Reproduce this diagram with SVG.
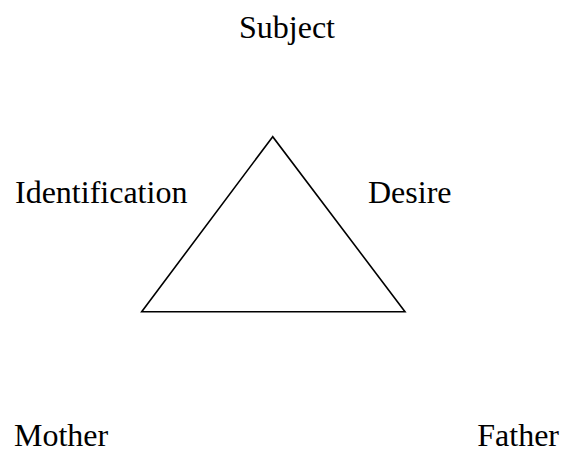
<svg xmlns="http://www.w3.org/2000/svg" width="561" height="451" viewBox="0 0 561 451">
<style>
text{font-family:"Liberation Serif","Times New Roman",serif;font-size:32px;fill:#000}
.edge{fill:none;stroke:#000;stroke-width:1.6}
</style>
<rect width="561" height="451" fill="#fff"/>
<g id="connectors">
<polygon class="edge" points="272.7,136.7 141.7,311.7 405,311.7"/>
</g>
<g id="subject"><text x="287" y="37.5" text-anchor="middle">Subject</text></g>
<g id="identification"><text x="15" y="202.5">Identification</text></g>
<g id="desire"><text x="368" y="202.5">Desire</text></g>
<g id="mother"><text x="14" y="446">Mother</text></g>
<g id="father"><text x="559" y="446" text-anchor="end">Father</text></g>
</svg>
